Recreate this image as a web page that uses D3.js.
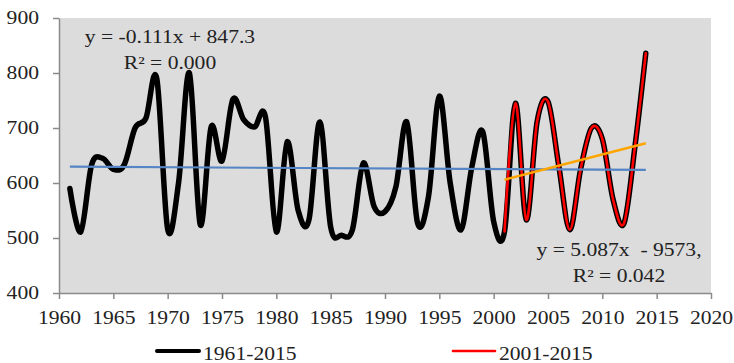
<!DOCTYPE html>
<meta charset="utf-8">
<style>
  body { margin: 0; background: #fff; }
  text { font-family: "Liberation Serif", "Times New Roman", serif; fill: #222; }
</style>
<body>
<script src="https://cdn.jsdelivr.net/npm/d3@7"></script>
<script>
  'use strict';

  // annual values
  const years = d3.range(1961, 2015);
  const values = [590, 511, 633, 645, 625, 633, 700, 718, 790, 516,
                  600, 800, 524, 702, 640, 752, 715, 702, 720, 511,
                  675, 551, 533, 711, 520, 505, 515, 636, 557, 548,
                  593, 711, 527, 575, 758, 600, 515, 630, 693, 530,
                  512, 745, 533, 712, 748, 630, 515, 625, 700, 680,
                  569, 527, 666, 836];
  const recentStart = 2001;

  // linear trend end points (from the fitted equations shown)
  const trendAll = [[1961, 629.6], [2014, 623.8]];
  const trendRecent = [[2001, 606.1], [2014, 672.2]];

  const xTicks = d3.range(1960, 2021, 5);
  const yTicks = [400, 500, 600, 700, 800, 900];
  const labelAll = ["y = -0.111x + 847.3", "R\u00b2 = 0.000"];
  const labelRecent = ["y = 5.087x  - 9573,", "R\u00b2 = 0.042"];
  const legendNames = ["1961-2015", "2001-2015"];

  const margin = {top: 18, right: 23, bottom: 70, left: 59},
        W = 734, H = 363,
        width = W - margin.left - margin.right,
        height = H - margin.top - margin.bottom,
        sx = 1.2; // text in the picture is drawn slightly wide

  const svg = d3.select("body").append("svg")
      .attr("width", W).attr("height", H);
  const g = svg.append("g").attr("transform", `translate(${margin.left},${margin.top})`);

  const x = d3.scaleLinear().domain([1960, 2020]).range([0, width]);
  const y = d3.scaleLinear().domain([400, 900]).range([height, 0]);

  g.append("rect").attr("width", width).attr("height", height).attr("fill", "#dcdcdc");

  const series = years.map((yr, i) => ({yr, v: values[i]}));
  const line = d3.line().x(d => x(d.yr)).y(d => y(d.v)).curve(d3.curveCatmullRom.alpha(0));

  g.append("path").datum(series).attr("d", line)
      .attr("fill", "none").attr("stroke", "#000").attr("stroke-width", 5.5)
      .attr("stroke-linejoin", "round").attr("stroke-linecap", "round");
  g.append("path").datum(series.filter(d => d.yr >= recentStart)).attr("d", line)
      .attr("fill", "none").attr("stroke", "#ff0000").attr("stroke-width", 2.6)
      .attr("stroke-linecap", "round");

  const tl = d3.line().x(d => x(d[0])).y(d => y(d[1]));
  g.append("path").datum(trendAll).attr("d", tl)
      .attr("stroke", "#5585c4").attr("stroke-width", 2.2).attr("fill", "none");
  g.append("path").datum(trendRecent).attr("d", tl)
      .attr("stroke", "#ffa500").attr("stroke-width", 2.6).attr("fill", "none");

  // axes
  const xAxis = g.append("g").attr("transform", `translate(0,${height})`)
      .call(d3.axisBottom(x).tickValues(xTicks).tickFormat(d3.format("d")).tickSize(6).tickSizeOuter(0));
  const yAxis = g.append("g")
      .call(d3.axisLeft(y).tickValues(yTicks).tickSize(6).tickSizeOuter(0));
  [xAxis, yAxis].forEach(a => {
    a.select(".domain").attr("stroke", "#8a8a8a").attr("stroke-width", 1.5);
    a.selectAll(".tick line").attr("stroke", "#8a8a8a").attr("stroke-width", 1.5);
    a.selectAll("text").attr("font-family", null).attr("font-size", 18).attr("fill", "#222");
  });
  xAxis.selectAll("text").attr("y", 0).attr("dy", null)
      .attr("transform", `translate(0,31) scale(${sx},1)`);
  yAxis.selectAll("text").attr("x", 0).attr("dy", "0.33em")
      .attr("transform", `translate(-20,0) scale(${sx},1)`);

  function label(lines, cx, baselines) {
    lines.forEach((t, i) => {
      g.append("text").text(t).attr("text-anchor", "middle").attr("font-size", 18)
          .attr("transform", `translate(${cx - margin.left},${baselines[i] - margin.top}) scale(${sx},1)`)
          .style("white-space", "pre");
    });
  }
  label(labelAll, 170, [43, 69]);
  label(labelRecent, 619, [256, 282]);

  // legend
  const leg = svg.append("g");
  const legItems = [
    {name: legendNames[0], x1: 157, color: "#000", w: 4},
    {name: legendNames[1], x1: 453, color: "#ff0000", w: 2.6}
  ];
  legItems.forEach(d => {
    leg.append("line").attr("x1", d.x1).attr("x2", d.x1 + 42)
        .attr("y1", 351).attr("y2", 351)
        .attr("stroke", d.color).attr("stroke-width", d.w).attr("stroke-linecap", "round");
    leg.append("text").text(d.name).attr("font-size", 18)
        .attr("transform", `translate(${d.x1 + 46},360) scale(${sx},1)`);
  });
</script>
</body>
